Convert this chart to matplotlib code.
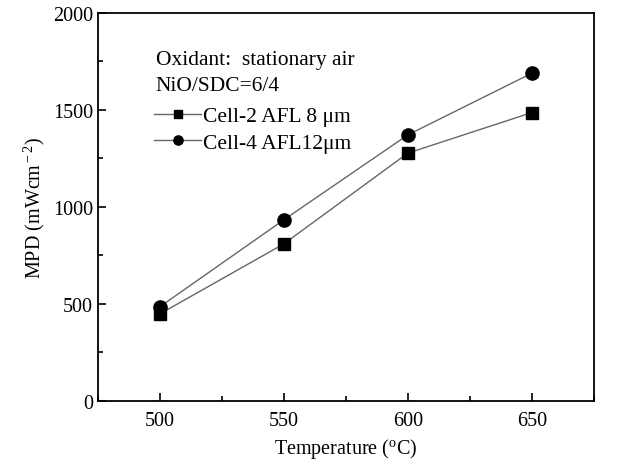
import numpy as np
import matplotlib
matplotlib.use("Agg")
import matplotlib.pyplot as plt
from matplotlib.ticker import MultipleLocator

plt.rcParams['font.family'] = ['Liberation Serif', 'DejaVu Serif']
plt.rcParams['mathtext.fontset'] = 'custom'
plt.rcParams['mathtext.rm'] = 'Liberation Serif'
plt.rcParams['mathtext.it'] = 'Liberation Serif:italic'

temps = [500, 550, 600, 650]
mpd_cell2 = [448, 809, 1277, 1486]   # AFL 8 um
mpd_cell4 = [485, 933, 1371, 1689]   # AFL 12 um
labels = ["Cell-2 AFL 8 \u03bcm", "Cell-4 AFL12\u03bcm"]

fig = plt.figure(figsize=(6.27, 4.64), dpi=100)
ax = fig.add_axes([0.156, 0.134, 0.791, 0.836])

ax.plot(temps, mpd_cell2, color='#666666', lw=1.0, marker='s', ms=8.5,
        mfc='k', mec='k', label=labels[0])
ax.plot(temps, mpd_cell4, color='#666666', lw=1.0, marker='o', ms=9.5,
        mfc='k', mec='k', label=labels[1])

ax.set_xlim(475, 675)
ax.set_ylim(0, 2000)
ax.xaxis.set_major_locator(MultipleLocator(50))
ax.xaxis.set_minor_locator(MultipleLocator(25))
ax.yaxis.set_major_locator(MultipleLocator(500))
ax.yaxis.set_minor_locator(MultipleLocator(250))
ax.tick_params(which='both', direction='in', labelsize=14.5, width=1.2)
ax.tick_params(which='major', length=6)
ax.tick_params(which='minor', length=3.5)
ax.tick_params(axis='x', pad=7)
for s in ax.spines.values():
    s.set_linewidth(1.3)

ax.set_xlabel("Temperature ($^{\\rm o}$C)", fontsize=14.5, labelpad=5)
ax.set_ylabel("MPD (mWcm$^{\\rm -2}$)", fontsize=14.5, labelpad=4)

ax.text(0.117, 0.881, "Oxidant:  stationary air", transform=ax.transAxes,
        fontsize=15.5, va='center')
ax.text(0.117, 0.812, "NiO/SDC=6/4", transform=ax.transAxes,
        fontsize=15.5, va='center')
ax.legend(loc='upper left', bbox_to_anchor=(0.113, 0.760), frameon=False,
          fontsize=15.5, handlelength=2.2, handletextpad=0.1,
          labelspacing=0.3, borderaxespad=0, borderpad=0, markerscale=0.7)

fig.savefig("out.png", dpi=100)
